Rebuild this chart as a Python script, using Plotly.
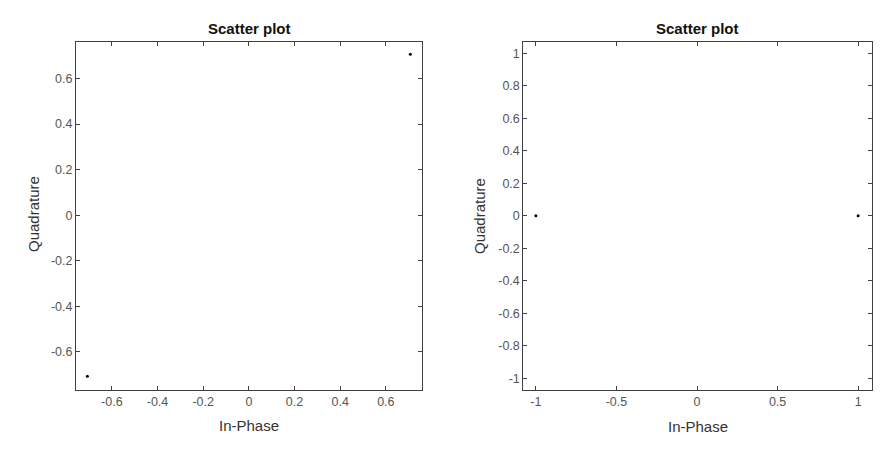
import plotly.graph_objects as go

# Data
left_inphase = [0.7071, -0.7071]
left_quadrature = [0.7071, -0.7071]
right_inphase = [-1.0, 1.0]
right_quadrature = [0.0, 0.0]

left_xticks = [-0.6, -0.4, -0.2, 0, 0.2, 0.4, 0.6]
left_xticklabels = ["-0.6", "-0.4", "-0.2", "0", "0.2", "0.4", "0.6"]
left_yticks = [-0.6, -0.4, -0.2, 0, 0.2, 0.4, 0.6]
left_yticklabels = ["-0.6", "-0.4", "-0.2", "0", "0.2", "0.4", "0.6"]
right_xticks = [-1, -0.5, 0, 0.5, 1]
right_xticklabels = ["-1", "-0.5", "0", "0.5", "1"]
right_yticks = [-1, -0.8, -0.6, -0.4, -0.2, 0, 0.2, 0.4, 0.6, 0.8, 1]
right_yticklabels = ["-1", "-0.8", "-0.6", "-0.4", "-0.2", "0", "0.2", "0.4", "0.6", "0.8", "1"]

W, H = 893, 454
FONT = "Liberation Sans, Arial, sans-serif"
AXC = "#404040"
TICKC = "#555555"

fig = go.Figure()
fig.add_trace(go.Scatter(x=left_inphase, y=left_quadrature, mode="markers",
                         marker=dict(color="black", size=3), xaxis="x", yaxis="y",
                         showlegend=False))
fig.add_trace(go.Scatter(x=right_inphase, y=right_quadrature, mode="markers",
                         marker=dict(color="black", size=3), xaxis="x2", yaxis="y2",
                         showlegend=False))

ydom = [1 - 390 / H, 1 - 41.7 / H]
lxdom = [76 / W, 421.7 / W]
rxdom = [523.3 / W, 871.7 / W]

def axis(dom, rng, tv, tt, anchor):
    return dict(domain=dom, range=rng, tickvals=tv, ticktext=tt, anchor=anchor,
                showline=True, linecolor=AXC, linewidth=1, mirror="ticks",
                ticks="inside", ticklen=4, tickcolor=AXC, showgrid=False,
                zeroline=False, tickfont=dict(family=FONT, size=12.5, color=TICKC),
                fixedrange=True)

fig.update_layout(
    width=W, height=H,
    margin=dict(l=0, r=0, t=0, b=0),
    paper_bgcolor="white", plot_bgcolor="white",
    xaxis=axis(lxdom, [-0.757, 0.757], left_xticks, left_xticklabels, "y"),
    yaxis=axis(ydom, [-0.768, 0.762], left_yticks, left_yticklabels, "x"),
    xaxis2=axis(rxdom, [-1.078, 1.084], right_xticks, right_xticklabels, "y2"),
    yaxis2=axis(ydom, [-1.072, 1.071], right_yticks, right_yticklabels, "x2"),
)

def ann(text, x, y, size, bold=False, angle=0, color="#333333"):
    fig.add_annotation(text=("<b>%s</b>" % text) if bold else text,
                       x=x / W, y=1 - y / H, xref="paper", yref="paper",
                       showarrow=False, textangle=angle, xanchor="center", yanchor="middle",
                       font=dict(family=FONT, size=size, color=color))

ann("Scatter plot", 249, 29, 15, bold=True, color="#111111")
ann("Scatter plot", 697.5, 29, 15, bold=True, color="#111111")
ann("In-Phase", 249, 425, 15)
ann("In-Phase", 697.5, 426, 15)
ann("Quadrature", 33, 214, 15, angle=-90)
ann("Quadrature", 480, 216, 15, angle=-90)

fig.write_html("out.html")
